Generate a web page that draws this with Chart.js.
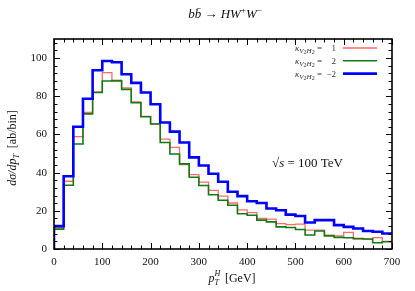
<!DOCTYPE html>
<html>
<head>
<meta charset="utf-8">
<script src="https://cdn.jsdelivr.net/npm/chart.js@4.4.1/dist/chart.umd.min.js"></script>
<style>
	body { margin: 0; background: #fff; }
	canvas { display: block; }
</style>
</head>
<body>
<canvas id="chart" width="415" height="291"></canvas>
<script>
// lower edges of the 20 GeV bins in p_T^H
const binLow = [0, 20, 40, 60, 80, 100, 120, 140, 160, 180, 200, 220, 240, 260, 280, 300, 320, 340,
	360, 380, 400, 420, 440, 460, 480, 500, 520, 540, 560, 580, 600, 620, 640, 660, 680]
const binWidth = 20

// dsigma/dpT [ab/bin] for each kappa
const kappa1 = [11.2, 35.5, 58.9, 71.5, 82.3, 92.4, 88.0, 84.4, 77.0, 69.5, 65.5, 57.6, 53.2, 44.2, 39.0, 35.0, 30.7, 27.7,
	24.1, 20.5, 19.1, 16.0, 15.6, 13.3, 12.8, 13.0, 9.9, 9.9, 7.3, 6.9, 8.7, 5.2, 5.2, 6.0, 4.0]
const kappa2 = [10.4, 33.4, 55.0, 70.8, 82.0, 88.0, 88.2, 83.6, 76.6, 69.3, 65.5, 55.8, 49.8, 44.6, 37.6, 33.3, 28.4, 25.5,
	22.9, 18.5, 17.7, 15.1, 14.2, 11.6, 11.3, 10.2, 7.3, 9.4, 6.9, 6.1, 5.9, 5.5, 5.2, 3.3, 3.8]
const kappaM2 = [12.0, 38.1, 64.0, 78.7, 93.6, 98.5, 97.8, 91.5, 87.0, 82.0, 75.8, 66.3, 61.5, 55.8, 48.0, 43.7, 39.4, 35.2,
	30.0, 27.7, 25.0, 24.1, 21.2, 20.3, 18.0, 17.3, 13.9, 15.1, 15.1, 12.5, 11.6, 10.7, 9.4, 9.0, 8.1]

const kappaLabels = ['1', '2', '\u22122']
const xTicks = [0, 100, 200, 300, 400, 500, 600, 700]
const yTicks = [0, 20, 40, 60, 80, 100]

const SERIF = '"Liberation Serif", "DejaVu Serif", serif'

// step outline: start at 0, one point per bin edge, close at last edge
function steps(values) {
	const pts = [{ x: binLow[0], y: 0 }]
	values.forEach((v, i) => pts.push({ x: binLow[i], y: v }))
	pts.push({ x: binLow[binLow.length - 1] + binWidth, y: values[values.length - 1] })
	return pts
}

// draws a row of text pieces (sub/superscripts via dy)
function textRun(ctx, parts, x, y, align) {
	let w = 0
	parts.forEach(p => {
		ctx.font = p.f
		if (p.adv !== false) w += ctx.measureText(p.t).width
	})
	let cx = align === 'right' ? x - w : align === 'center' ? x - w / 2 : x
	ctx.textAlign = 'left'
	ctx.textBaseline = 'alphabetic'
	parts.forEach(p => {
		ctx.font = p.f
		ctx.fillText(p.t, cx, y + (p.dy || 0))
		if (p.adv !== false) cx += ctx.measureText(p.t).width
	})
}

const it = s => 'italic ' + s + 'px ' + SERIF
const rm = s => s + 'px ' + SERIF

const decor = {
	id: 'decor',
	afterDatasetsDraw(chart) {
		const ctx = chart.ctx
		const a = chart.chartArea
		const xs = chart.scales.x
		const ys = chart.scales.y
		ctx.save()
		ctx.strokeStyle = '#000'
		ctx.lineWidth = 1
		ctx.beginPath()
		for (let v = 0; v <= 700; v += 20) {
			const px = Math.round(xs.getPixelForValue(v)) + 0.5
			const len = v % 100 === 0 ? 6 : 3.5
			ctx.moveTo(px, a.bottom); ctx.lineTo(px, a.bottom - len)
			ctx.moveTo(px, a.top); ctx.lineTo(px, a.top + len)
		}
		for (let v = 0; v <= 110; v += 4) {
			const py = Math.round(ys.getPixelForValue(v)) + 0.5
			const len = v % 20 === 0 ? 6 : 3.5
			ctx.moveTo(a.left, py); ctx.lineTo(a.left + len, py)
			ctx.moveTo(a.right, py); ctx.lineTo(a.right - len, py)
		}
		ctx.stroke()
		ctx.lineWidth = 1.6
		ctx.strokeRect(a.left, a.top, a.right - a.left, a.bottom - a.top)
		ctx.restore()
	},
	afterDraw(chart) {
		const ctx = chart.ctx
		ctx.save()
		ctx.fillStyle = '#111'

		// title
		textRun(ctx, [
			{ t: 'b', f: it(13) }, { t: 'b\u0304', f: it(13) }, { t: ' \u2192 ', f: rm(13) },
			{ t: 'HW', f: it(13) }, { t: '+', f: rm(9), dy: -5 }, { t: 'W', f: it(13) }, { t: '\u2212', f: rm(9), dy: -5 }
		], 225, 18, 'center')

		// x axis title
		textRun(ctx, [
			{ t: 'p', f: it(12) }, { t: 'H', f: it(8), dy: -6, adv: false }, { t: 'T', f: it(8), dy: 3 },
			{ t: '  [GeV]', f: rm(12) }
		], 232, 282, 'center')

		// y axis title
		ctx.save()
		ctx.translate(16, 148)
		ctx.rotate(-Math.PI / 2)
		textRun(ctx, [
			{ t: 'd\u03c3/dp', f: it(12) }, { t: 'T', f: it(8), dy: 3 }, { t: '  [ab/bin]', f: rm(12) }
		], 0, 0, 'center')
		ctx.restore()

		// sqrt(s) note
		textRun(ctx, [
			{ t: '\u221a', f: rm(13) }, { t: 's', f: it(13) }, { t: ' = 100 TeV', f: rm(13) }
		], 272, 167, 'left')

		// legend
		chart.data.datasets.forEach((ds, i) => {
			const y = 48 + i * 12.8
			ctx.fillStyle = '#333'
			textRun(ctx, [
				{ t: '\u03ba', f: it(9) }, { t: 'V', f: it(7), dy: 2 }, { t: '2', f: rm(6), dy: 3 },
				{ t: 'H', f: it(7), dy: 2 }, { t: '2', f: rm(6), dy: 3 }, { t: ' =', f: rm(9) }
			], 322, y + 3, 'right')
			textRun(ctx, [{ t: kappaLabels[i], f: rm(9) }], 336, y + 3, 'right')
			ctx.strokeStyle = ds.borderColor
			ctx.lineWidth = ds.borderWidth
			ctx.beginPath()
			ctx.moveTo(343, y)
			ctx.lineTo(377, y)
			ctx.stroke()
		})
		ctx.restore()
	}
}

new Chart(document.getElementById('chart'), {
	type: 'line',
	data: {
		datasets: [
			{ label: '1', data: steps(kappa1), borderColor: '#ff6a6a', borderWidth: 1.3, stepped: 'before', pointRadius: 0, fill: false, order: 2 },
			{ label: '2', data: steps(kappa2), borderColor: '#137a13', borderWidth: 1.6, stepped: 'before', pointRadius: 0, fill: false, order: 1 },
			{ label: '-2', data: steps(kappaM2), borderColor: '#0000ff', borderWidth: 2.6, stepped: 'before', pointRadius: 0, fill: false, order: 0 },
		],
	},
	options: {
		responsive: false,
		animation: false,
		layout: { padding: { top: 39, right: 23, left: 0, bottom: 0 } },
		plugins: {
			legend: { display: false },
			tooltip: { enabled: false },
		},
		scales: {
			x: {
				type: 'linear',
				min: 0,
				max: 700,
				grid: { display: false, drawTicks: false },
				border: { display: false },
				ticks: { color: '#111', font: { family: SERIF, size: 11 }, padding: 7, maxRotation: 0, autoSkip: false },
				afterBuildTicks: s => { s.ticks = xTicks.map(v => ({ value: v })) },
				afterFit: s => { s.height = 42 },
			},
			y: {
				min: 0,
				max: 110,
				grid: { display: false, drawTicks: false },
				border: { display: false },
				ticks: { color: '#111', font: { family: SERIF, size: 11 }, padding: 7 },
				afterBuildTicks: s => { s.ticks = yTicks.map(v => ({ value: v })) },
				afterFit: s => { s.width = 54 },
			},
		},
	},
	plugins: [decor],
})
</script>
</body>
</html>
